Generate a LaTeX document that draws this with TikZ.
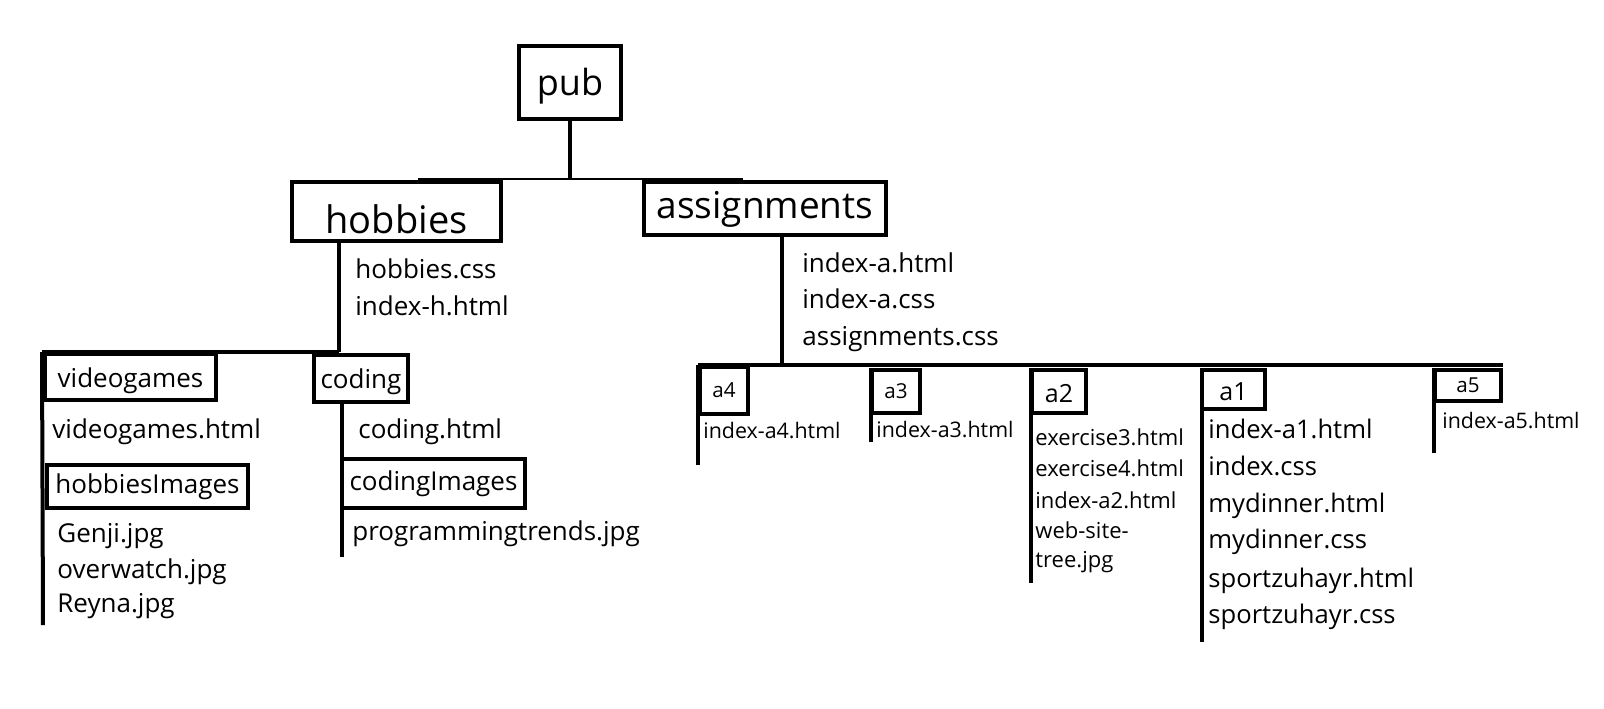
\documentclass[tikz,border=0pt]{standalone}
\usepackage{fontspec}
\setmainfont{Open Sans}
\begin{document}
\begin{tikzpicture}[x=0.5pt,y=-0.5pt,
  box/.style={draw,line width=2pt,inner sep=0pt,text depth=0pt},
  ln/.style={line width=2pt},
  thinln/.style={line width=1.25pt},
  file/.style={anchor=base west,inner sep=0pt},
  fileM/.style={file,font=\fontsize{13}{13}\selectfont},
  fileS/.style={file,font=\fontsize{10.7}{10.7}\selectfont},
  fileB/.style={file,font=\fontsize{11}{11}\selectfont},
  fileC/.style={file,font=\fontsize{12.8}{12.8}\selectfont},
]
\useasboundingbox[fill=white] (0,0) rectangle (1604,708);

% boxes
\node[box,minimum width=51pt,minimum height=36.5pt,text height=12.5pt,font=\fontsize{18}{18}\selectfont] (pub) at (570,82.5) {pub};
\node[box,minimum width=104.5pt,minimum height=29.5pt,text height=21.5pt,font=\fontsize{19}{19}\selectfont] (hobbies) at (396.5,211.5) {hobbies};
\node[box,minimum width=121pt,minimum height=26.5pt,text height=9.5pt,font=\fontsize{18.5}{18.5}\selectfont] (assignments) at (765,208.5) {assignments};
\node[box,minimum width=85.5pt,minimum height=23pt,text height=10pt,font=\fontsize{13}{13}\selectfont] (videogames) at (130.5,377) {videogames};
\node[box,minimum width=47pt,minimum height=23.5pt,text height=9.5pt,font=\fontsize{13}{13}\selectfont] (coding) at (361,378.5) {coding};
\node[box,minimum width=100.5pt,minimum height=21.5pt,text height=6.5pt,font=\fontsize{13}{13}\selectfont] (hobbiesImages) at (147.5,486.5) {hobbiesImages};
\node[box,minimum width=91.5pt,minimum height=24.5pt,text height=6.5pt,font=\fontsize{13}{13}\selectfont] (codingImages) at (433.5,483.5) {codingImages};
\node[box,minimum width=24pt,minimum height=23.5pt,text height=6.5pt,font=\fontsize{10.3}{10.3}\selectfont] (a4) at (724,390.5) {a4};
\node[box,minimum width=24pt,minimum height=21.5pt,text height=6.5pt,font=\fontsize{10.3}{10.3}\selectfont] (a3) at (896,391.5) {a3};
\node[box,minimum width=27pt,minimum height=21.5pt,text height=10.5pt,font=\fontsize{12.5}{12.5}\selectfont] (a2) at (1059,391.5) {a2};
\node[box,minimum width=31.5pt,minimum height=19.5pt,text height=10.5pt,font=\fontsize{12.5}{12.5}\selectfont] (a1) at (1233.5,389.5) {a1};
\node[box,minimum width=33pt,minimum height=15.5pt,text height=6.5pt,font=\fontsize{10.3}{10.3}\selectfont] (a5) at (1468,385.5) {a5};

% free ends
\coordinate (tbL) at (418,179);
\coordinate (tbR) at (743,179);
\coordinate (hbar) at (339,352);
\coordinate (hbarL) at (42,352);
\coordinate (vgend) at (43,625);
\coordinate (cend) at (342,557);
\coordinate (abar) at (782,365);
\coordinate (abarL) at (698,365);
\coordinate (abarR) at (1503,365);
\coordinate (a4end) at (698,465);
\coordinate (a3end) at (871,442);
\coordinate (a2end) at (1031,583);
\coordinate (a1end) at (1202,642);
\coordinate (a5end) at (1434,453);

% connectors
\draw[thinln] (tbL) -- (tbR);
\draw[ln] (pub.south) -- (pub.south |- tbL);
\draw[ln] (hobbies.south -| hbar) -- (hbar);
\draw[ln] (hbarL) -- (hbar);
\draw[ln] (hbarL) -- (vgend);
\draw[ln] (coding.south -| cend) -- (cend);
\draw[ln] (assignments.south -| abar) -- (abar);
\draw[ln] (abarL) -- (abarR);
\draw[ln] (abarL) -- (a4end);
\draw[ln] (a3.north west -| a3end) -- (a3end);
\draw[ln] (a2.north west -| a2end) -- (a2end);
\draw[ln] (a1.north west -| a1end) -- (a1end);
\draw[ln] (a5.north west -| a5end) -- (a5end);

% files
\node[fileM] (hcss) at (355,278) {hobbies.css};
\node[fileM] (hidx) at (355,315) {index-h.html};
\node[fileM] (aidx) at (802,272) {index-a.html};
\node[fileM] (acss) at (802,308) {index-a.css};
\node[fileM] (aacss) at (802,345) {assignments.css};
\node[fileM] (vghtml) at (52,438) {videogames.html};
\node[fileM] (genji) at (57,542) {Genji.jpg};
\node[fileM] (overwatch) at (57,578) {overwatch.jpg};
\node[fileM] (reyna) at (57,612) {Reyna.jpg};
\node[fileM] (codhtml) at (358,438) {coding.html};
\node[fileM] (progtr) at (352,540) {programmingtrends.jpg};
\node[fileS] (ia4) at (703,438) {index-a4.html};
\node[fileS] (ia3) at (876,437) {index-a3.html};
\node[fileB] (ex3) at (1035,445) {exercise3.html};
\node[fileB] (ex4) at (1035,476) {exercise4.html};
\node[fileB] (ia2) at (1035,508) {index-a2.html};
\node[fileB] (wst) at (1035,538) {web-site-};
\node[fileB] (tree) at (1035,567) {tree.jpg};
\node[fileC] (ia1) at (1208,438) {index-a1.html};
\node[fileC] (icss) at (1208,475) {index.css};
\node[fileC] (mdh) at (1208,512) {mydinner.html};
\node[fileC] (mdc) at (1208,548) {mydinner.css};
\node[fileC] (szh) at (1208,587) {sportzuhayr.html};
\node[fileC] (szc) at (1208,623) {sportzuhayr.css};
\node[fileS] (ia5) at (1442,428) {index-a5.html};
\end{tikzpicture}
\end{document}
